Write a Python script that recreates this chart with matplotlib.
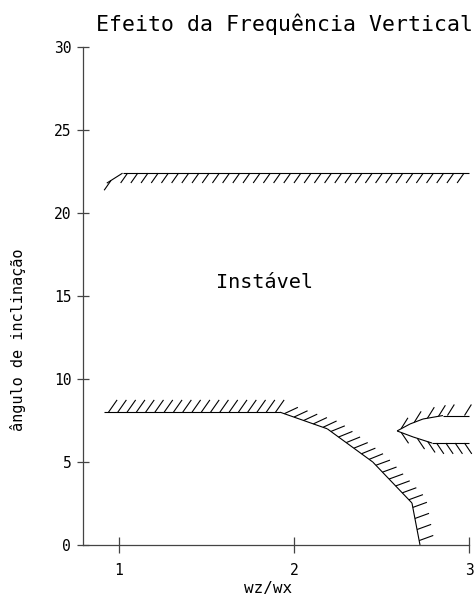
import numpy as np
import matplotlib
matplotlib.use("Agg")
from matplotlib import pyplot as plt
from matplotlib import patheffects as pe

plt.rcParams["font.family"] = ["DejaVu Sans Mono", "DejaVu Sans"]

# upper stability limit
top_x = [0.93, 1.02, 3.0]
top_y = [21.8, 22.4, 22.4]

# lower stability limit
low_x = [0.914, 1.92, 2.19, 2.45, 2.674, 2.72]
low_y = [8.0, 8.0, 7.0, 5.0, 2.53, 0.0]

# wedge region on the right
wedge_up_x = [2.589, 2.663, 2.737, 2.851, 3.0]
wedge_up_y = [6.87, 7.29, 7.59, 7.8, 7.8]
wedge_lo_x = [2.589, 2.68, 2.789, 3.0]
wedge_lo_y = [6.87, 6.51, 6.14, 6.14]

xticks = [1, 2, 3]
yticks = [0, 5, 10, 15, 20, 25, 30]

W, H = 477, 598
fig = plt.figure(figsize=(W / 100, H / 100), dpi=100)
ax = fig.add_axes([83 / W, 53 / H, (469 - 83) / W, (545 - 47) / H])
ax.set_xlim(0.794, 3.0)
ax.set_ylim(0, 30)

for s in ["top", "right"]:
    ax.spines[s].set_visible(False)
for s in ["left", "bottom"]:
    ax.spines[s].set_linewidth(0.9)
    ax.spines[s].set_color("#444444")

ax.set_xticks(xticks)
ax.set_yticks(yticks)
ax.tick_params(axis="x", direction="inout", length=11.5, width=0.9, pad=7,
               labelsize=10.5, color="#444444")
ax.tick_params(axis="y", direction="inout", length=9, width=0.9, pad=4,
               labelsize=10.5, color="#444444")

px2pt = 72 / 100


def hatched(xs, ys, hatch_dir, spacing, length):
    # draw a boundary segment by segment, ticks at a fixed screen direction
    for i in range(len(xs) - 1):
        p0, p1 = ax.transData.transform([(xs[i], ys[i]), (xs[i + 1], ys[i + 1])])
        tang = np.degrees(np.arctan2(p1[1] - p0[1], p1[0] - p0[0]))
        d = hatch_dir[i] if np.ndim(hatch_dir) else hatch_dir
        ax.plot(xs[i:i + 2], ys[i:i + 2], color="k", lw=0.8, clip_on=False,
                solid_capstyle="butt",
                path_effects=[pe.withTickedStroke(angle=d - tang,
                                                  spacing=spacing * px2pt,
                                                  length=length / spacing)])


hatched(top_x, top_y, -125, 10, 12)
hatched(low_x, low_y, [55, 25, 22, 20, 20], 9, 15)
hatched(wedge_up_x, wedge_up_y, 58, 9, 13)
hatched(wedge_lo_x, wedge_lo_y, -56, 9, 13)

ax.text(1.83, 15.8, "Instável", fontsize=14.5, ha="center", va="center")

fig.text(285 / W, 1 - 24 / H, "Efeito da Frequência Vertical", fontsize=15.5,
         ha="center", va="center")
fig.text(268 / W, 1 - 588 / H, "wz/wx", fontsize=11.5, ha="center", va="center")
fig.text(18 / W, 1 - 340 / H, "ângulo de inclinação", fontsize=11,
         ha="center", va="center", rotation=90)

fig.savefig("out.png", dpi=100)
